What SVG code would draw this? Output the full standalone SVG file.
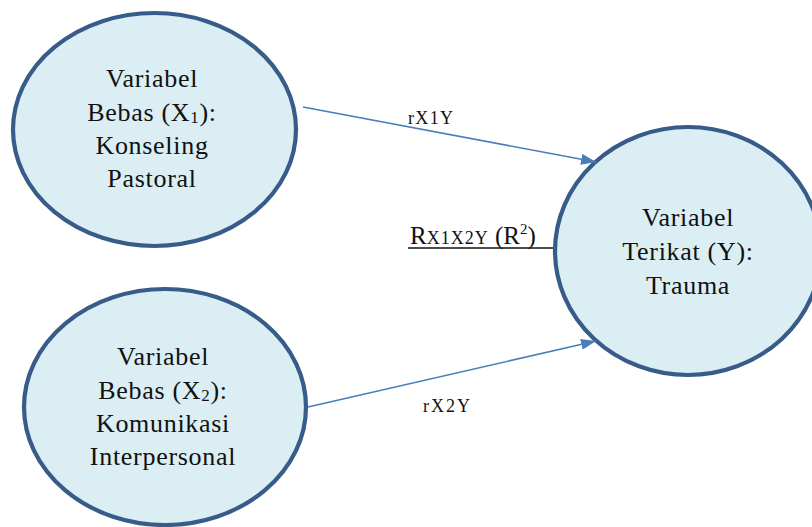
<svg xmlns="http://www.w3.org/2000/svg" width="812" height="527" viewBox="0 0 812 527">
<style>
.node ellipse{fill:#DAEEF3;stroke:#385C89;stroke-width:4.2}
text{font-family:"Liberation Serif","DejaVu Serif",serif;fill:#111}
.nt{font-size:26px;text-anchor:middle;letter-spacing:0.7px}
.conn line.arrow{stroke:#4A7EBB;stroke-width:1.6;marker-end:url(#ah)}
</style>
<defs>
<marker id="ah" markerUnits="userSpaceOnUse" markerWidth="15" markerHeight="11" refX="15" refY="5.5" orient="auto">
<path d="M0,0 L15,5.5 L0,11 Z" fill="#4A7EBB"/>
</marker>
</defs>
<rect width="812" height="527" fill="#fff"/>
<g id="node-x1" class="node">
<ellipse cx="154.5" cy="129.5" rx="141.5" ry="116.5"/>
<text class="nt" x="152" y="87">Variabel</text>
<text class="nt" x="152" y="121">Bebas (X<tspan font-size="17" dy="2">1</tspan><tspan dy="-2">):</tspan></text>
<text class="nt" x="152" y="154">Konseling</text>
<text class="nt" x="152" y="187">Pastoral</text>
</g>
<g id="node-x2" class="node">
<ellipse cx="165" cy="407" rx="141" ry="118"/>
<text class="nt" x="163" y="365">Variabel</text>
<text class="nt" x="163" y="399">Bebas (X<tspan font-size="17" dy="2">2</tspan><tspan dy="-2">):</tspan></text>
<text class="nt" x="163" y="432">Komunikasi</text>
<text class="nt" x="163" y="465">Interpersonal</text>
</g>
<g id="node-y" class="node">
<ellipse cx="688" cy="251" rx="133" ry="124"/>
<text class="nt" x="688" y="226">Variabel</text>
<text class="nt" x="688" y="260">Terikat (Y):</text>
<text class="nt" x="688" y="294">Trauma</text>
</g>
<g id="connectors" class="conn">
<line class="arrow" x1="303" y1="107" x2="596" y2="162"/>
<line class="arrow" x1="308" y1="407" x2="596" y2="341"/>
<line x1="408" y1="248" x2="553" y2="248" stroke="#111" stroke-width="1.5"/>
<text x="408" y="124" font-size="18" textLength="45" lengthAdjust="spacing">rX1Y</text>
<text x="423" y="412" font-size="18" textLength="47" lengthAdjust="spacing">rX2Y</text>
<text x="410" y="244" font-size="25">R<tspan font-size="18" letter-spacing="1">X1X2Y</tspan> (R<tspan font-size="15" dy="-10">2</tspan><tspan dy="10">)</tspan></text>
</g>
</svg>
